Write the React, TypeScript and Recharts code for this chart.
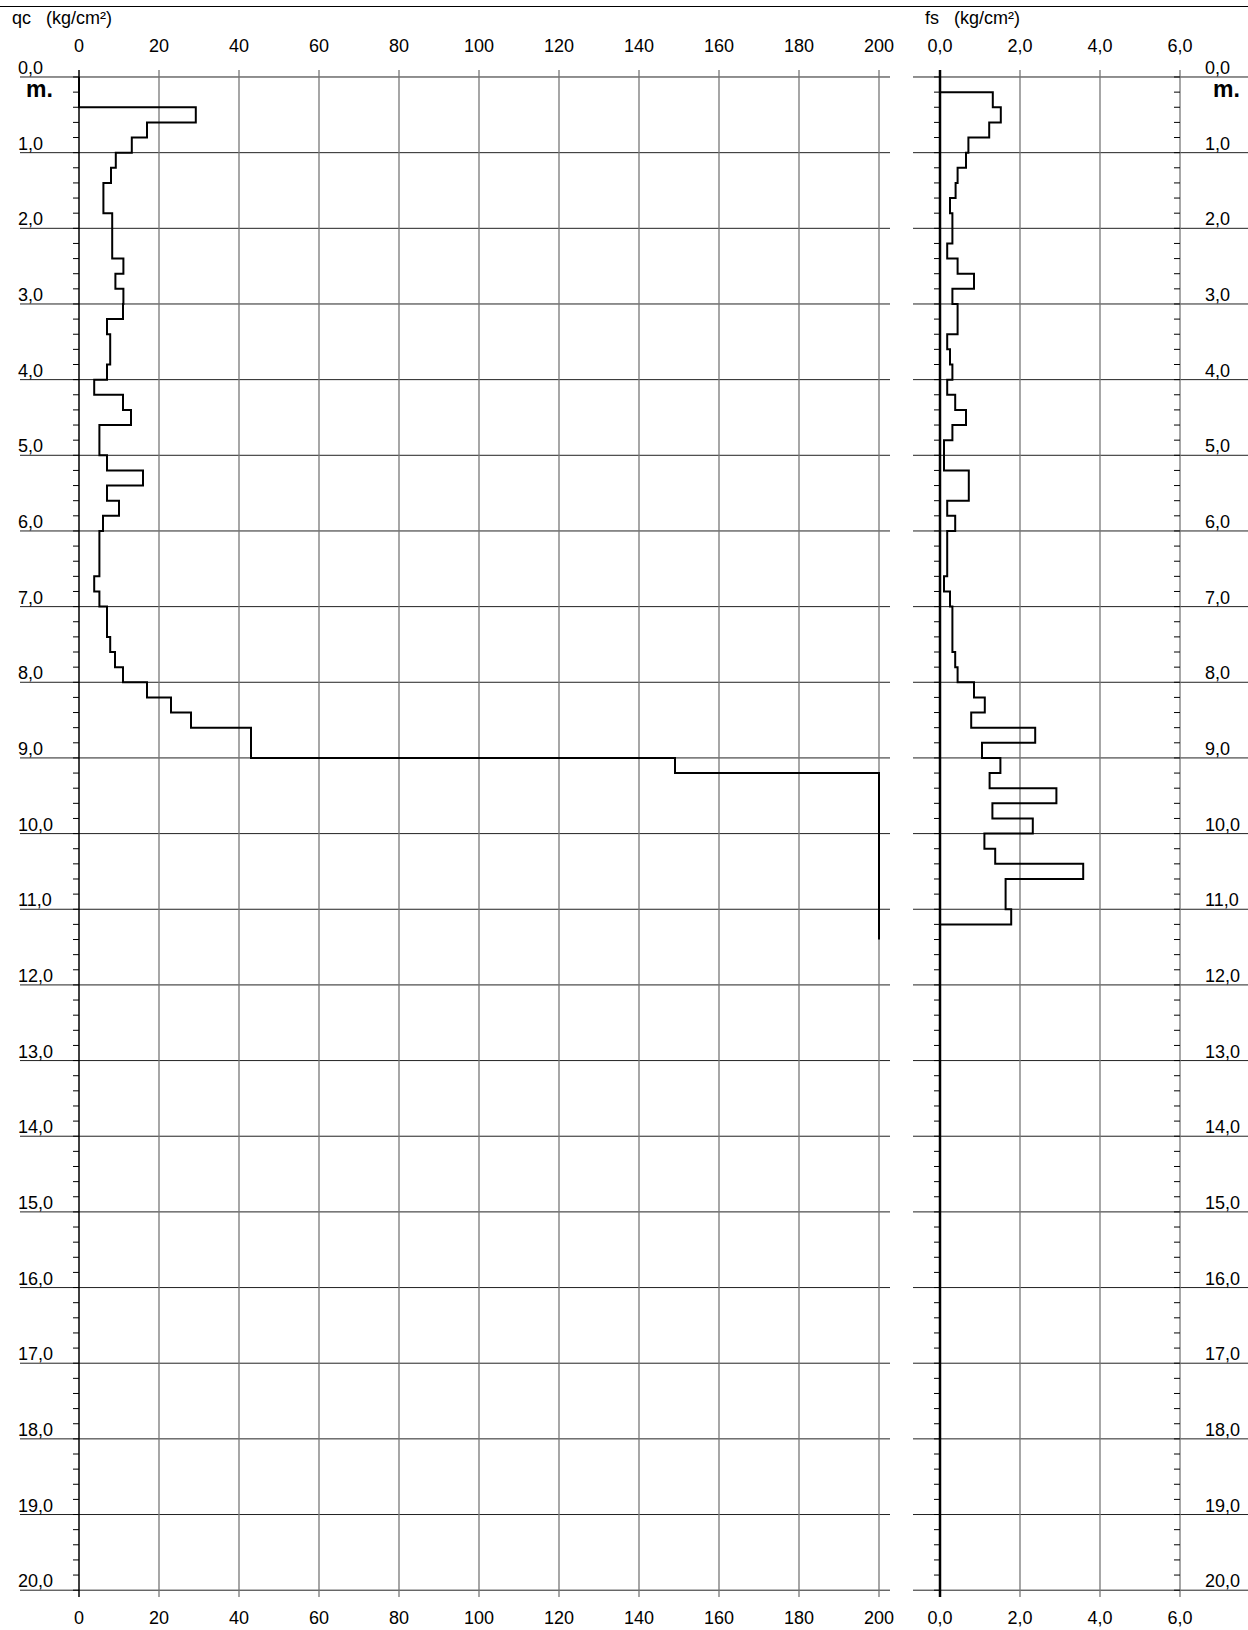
import { ComposedChart, Line, XAxis, YAxis, ReferenceLine } from "recharts";

// readings every 0.2 m from the surface
const STEP = 0.2;
const qcValues = [
  0, 0, 29.2, 17, 13.2, 9.2, 8, 6.1, 6.1, 8.3, 8.3, 8.3, 11.1, 9.1, 11.1, 11, 7, 7.8, 7.8, 7,
  3.8, 11, 13, 5.1, 5.1, 7, 16, 7, 10, 6, 5.1, 5.1, 5.1, 3.8, 5.1, 7, 7, 7.8, 9, 11,
  17, 23, 28, 43, 43, 149, 200, 200, 200, 200, 200, 200, 200, 200, 200, 200, 200,
];
const fsValues = [
  0, 1.32, 1.52, 1.23, 0.71, 0.65, 0.44, 0.39, 0.25, 0.31, 0.31, 0.18, 0.44, 0.85, 0.31,
  0.44, 0.44, 0.18, 0.25, 0.31, 0.18, 0.38, 0.65, 0.31, 0.1, 0.1, 0.72, 0.72, 0.18, 0.38,
  0.18, 0.18, 0.18, 0.1, 0.25, 0.31, 0.31, 0.31, 0.38, 0.44, 0.85, 1.12, 0.78, 2.38, 1.05,
  1.51, 1.24, 2.91, 1.31, 2.32, 1.11, 1.38, 3.58, 1.64, 1.64, 1.78,
];
const qcTicks = [0, 20, 40, 60, 80, 100, 120, 140, 160, 180, 200];
const fsTicks = [0, 2, 4, 6];
const depthMajor = Array.from({ length: 21 }, (_, i) => i);
const depthMinor = Array.from({ length: 101 }, (_, i) => i * 0.2);

const FONT = "'Liberation Sans', Arial, sans-serif";
const DEPTH_DOMAIN: [number, number] = [-0.0925, 20.09];

function steps(values: number[], closeToZero: boolean) {
  const pts: { v: number; d: number }[] = [];
  values.forEach((v, i) => {
    pts.push({ v, d: +(i * STEP).toFixed(2) });
    pts.push({ v, d: +((i + 1) * STEP).toFixed(2) });
  });
  if (closeToZero) pts.push({ v: 0, d: +(values.length * STEP).toFixed(2) });
  return pts;
}

const qcData = steps(qcValues, false);
const fsData = steps(fsValues, true);

const fmt1 = (n: number) => n.toFixed(1).replace(".", ",");

function DepthLabel({ viewBox, text, dx, bold }: any) {
  return (
    <text x={viewBox.x + dx} y={viewBox.y - 3} fontSize={bold ? 23 : 18} fontFamily={FONT} fill="#000" fontWeight={bold ? 700 : 400}>
      {text}
    </text>
  );
}

function TopTick({ x, y, payload, fmt }: any) {
  return (
    <text x={x} y={y - 10} textAnchor="middle" fontSize={18} fontFamily={FONT} fill="#000">
      {fmt(payload.value)}
    </text>
  );
}
function BottomTick({ x, y, payload, fmt }: any) {
  return (
    <text x={x} y={y + 19} textAnchor="middle" fontSize={18} fontFamily={FONT} fill="#000">
      {fmt(payload.value)}
    </text>
  );
}

function Panel({
  data, ticks, domain, fmt, left, width, margin, tickLen, labelX, minorAt, axisWidth,
}: any) {
  return (
    <div style={{ position: "absolute", left, top: 0 }}>
      <ComposedChart layout="vertical" width={width} height={1630} data={data} margin={margin}>
        <XAxis xAxisId="top" orientation="top" type="number" dataKey="v" domain={domain} ticks={ticks}
          allowDataOverflow axisLine={false} tickLine={false} height={30} tick={<TopTick fmt={fmt} />} />
        <XAxis type="number" dataKey="v" domain={domain} ticks={ticks} allowDataOverflow
          axisLine={false} tickLine={false} height={33} tick={<BottomTick fmt={fmt} />} />
        <YAxis type="number" dataKey="d" domain={DEPTH_DOMAIN} hide allowDataOverflow />
        {depthMajor.map((d) => (
          <ReferenceLine key={"h" + d} y={d} stroke="#222" strokeWidth={1}
            label={<DepthLabel text={fmt1(d)} dx={labelX} />} />
        ))}
        <ReferenceLine y={0.3} stroke="none" label={<DepthLabel text="m." dx={labelX + 8} bold />} />
        {ticks.map((t: number) => (
          <ReferenceLine key={"v" + t} segment={[{ x: t, y: DEPTH_DOMAIN[0] }, { x: t, y: DEPTH_DOMAIN[1] }]}
            stroke={t === 0 ? "#000" : "#777"} strokeWidth={t === 0 ? axisWidth : 1.3} />
        ))}
        {depthMinor.map((d) =>
          minorAt.map((m: number) => (
            <ReferenceLine key={"m" + d + "_" + m} segment={[{ x: m - tickLen, y: d }, { x: m, y: d }]}
              stroke="#000" strokeWidth={1} />
          ))
        )}
        <Line dataKey="v" stroke="#000" strokeWidth={2} dot={false} isAnimationActive={false} />
      </ComposedChart>
    </div>
  );
}

export default function App() {
  return (
    <div style={{ position: "absolute", left: 0, top: 0, width: 1248, height: 1630, background: "#fff", fontFamily: FONT, overflow: "hidden" }}>
      <div style={{ position: "absolute", left: 0, top: 6, width: 1248, borderTop: "1px solid #000" }} />
      <div style={{ position: "absolute", left: 12, top: 8, fontSize: 18 }}>qc&nbsp;&nbsp;&nbsp;(kg/cm²)</div>
      <div style={{ position: "absolute", left: 925, top: 8, fontSize: 18 }}>fs&nbsp;&nbsp;&nbsp;(kg/cm²)</div>
      <Panel data={qcData} ticks={qcTicks} domain={[-14.75, 202.75]} fmt={(n: number) => String(n)}
        left={0} width={900} margin={{ top: 40, right: 10, bottom: 0, left: 20 }}
        tickLen={1.5} labelX={-2} minorAt={[0]} axisWidth={1.5} />
      <Panel data={fsData} ticks={fsTicks} domain={[-0.675, 7.7]} fmt={fmt1}
        left={900} width={348} margin={{ top: 40, right: 0, bottom: 0, left: 13 }}
        tickLen={0.15} labelX={292} minorAt={[0, 6]} axisWidth={2.5} />
    </div>
  );
}
